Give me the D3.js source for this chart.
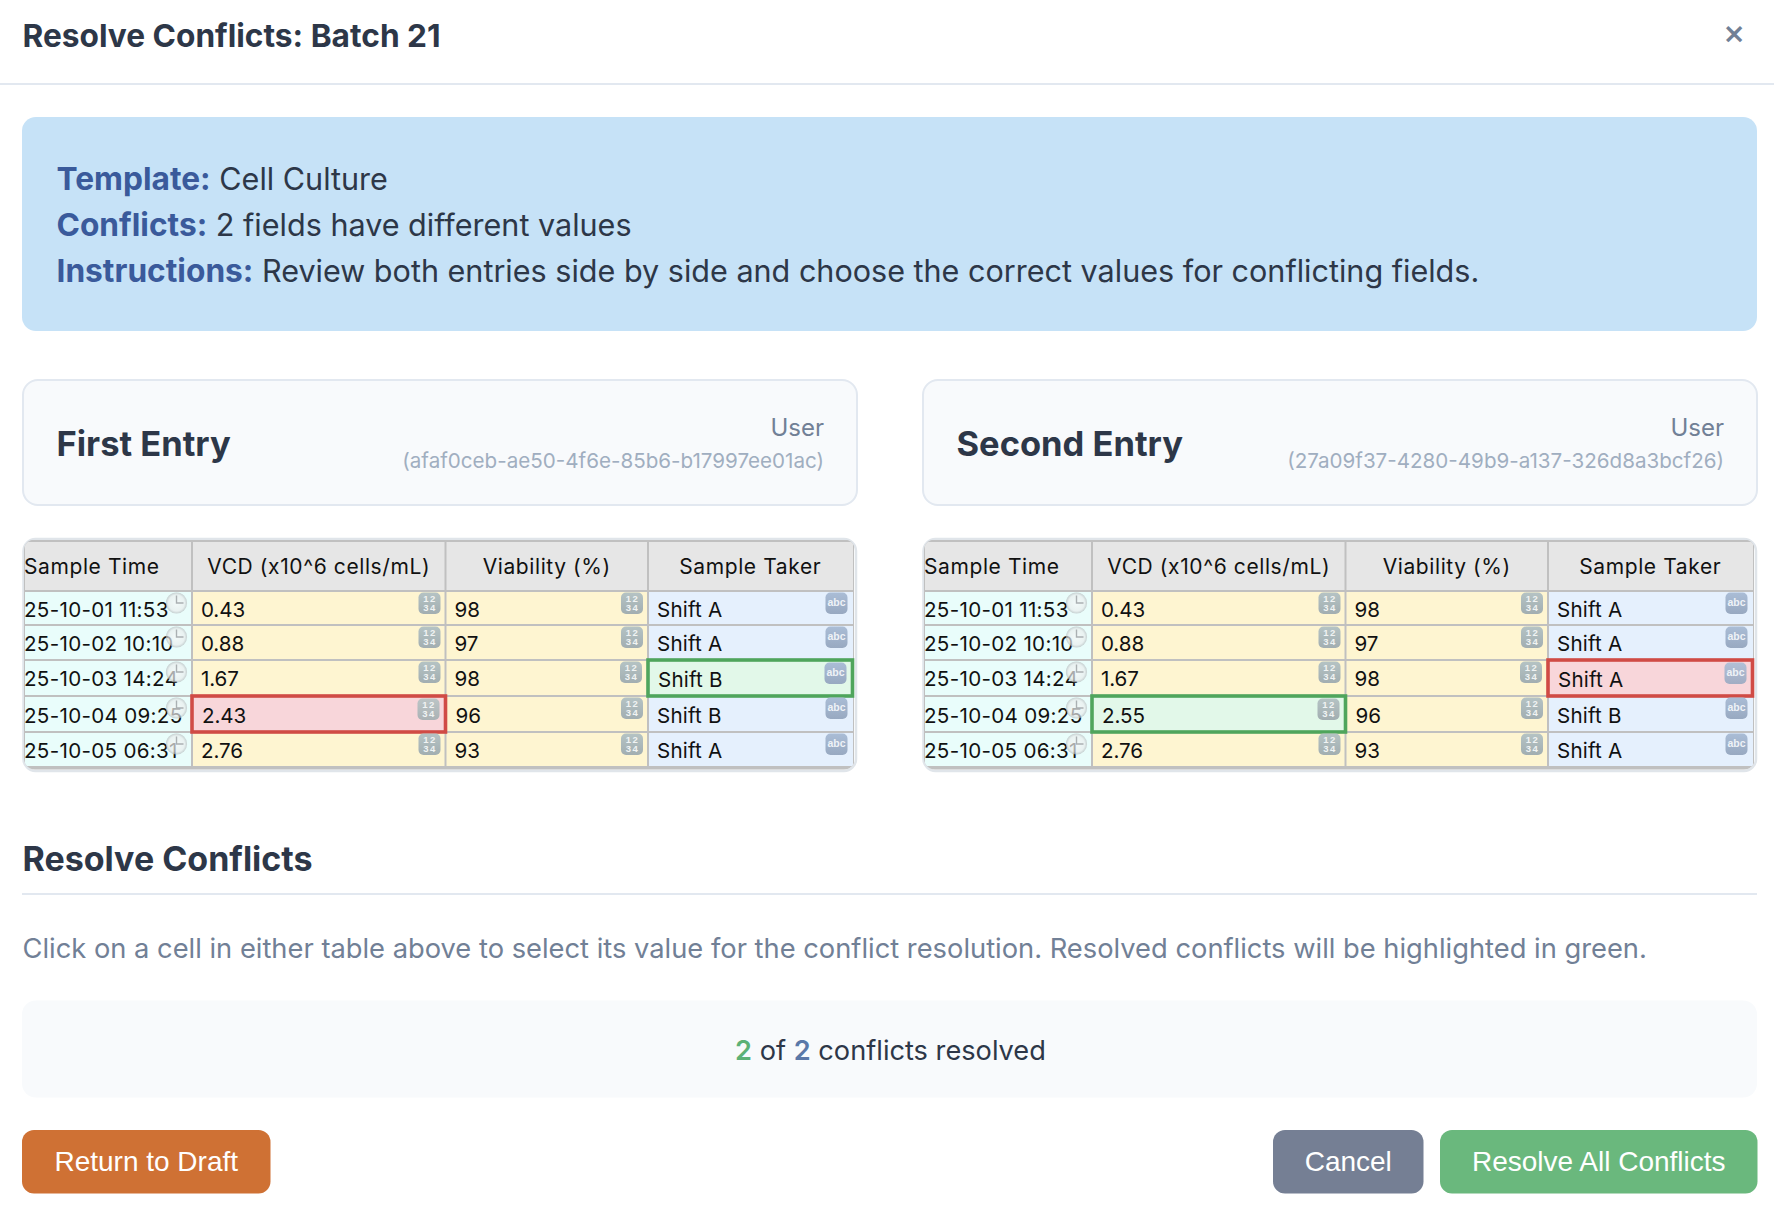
<!DOCTYPE html>
<html><head><meta charset="utf-8">
<script src="https://cdnjs.cloudflare.com/ajax/libs/d3/7.8.5/d3.min.js"></script>
<style>html,body{margin:0;padding:0;background:#fff;overflow:hidden}svg{display:block}text{white-space:pre}</style>
</head><body><svg id="c" width="1774" height="1212"></svg>
<script>
const columns=["Sample Time","VCD (x10^6 cells/mL)","Viability (%)","Sample Taker"];
const sampleTimes=["25-10-01 11:53","25-10-02 10:10","25-10-03 14:24","25-10-04 09:25","25-10-05 06:31"];
const vcdFirst=["0.43","0.88","1.67","2.43","2.76"];
const vcdSecond=["0.43","0.88","1.67","2.55","2.76"];
const viability=["98","97","98","96","93"];
const takerFirst=["Shift A","Shift A","Shift B","Shift B","Shift A"];
const takerSecond=["Shift A","Shift A","Shift A","Shift B","Shift A"];
const rowIds=[0,1,2,3,4];
const entries=[
 {title:"First Entry",user:"User",id:"(afaf0ceb-ae50-4f6e-85b6-b17997ee01ac)",vcd:vcdFirst,taker:takerFirst,marks:{"3-1":"bad","2-3":"good"}},
 {title:"Second Entry",user:"User",id:"(27a09f37-4280-49b9-a137-326d8a3bcf26)",vcd:vcdSecond,taker:takerSecond,marks:{"3-1":"good","2-3":"bad"}}
];
const INTER="Inter,sans-serif", HT="Inter,sans-serif", ICON="'Liberation Sans',Arial,sans-serif", BTN="'Liberation Sans',Arial,sans-serif";
const svg=d3.select("#c");
const ink="#2d3748", slate="#718096";
function txt(p,x,y,s,size,fill,o={}){
  return p.append("text").attr("x",x).attr("y",y).text(s).attr("font-size",size).attr("fill",fill)
   .attr("font-family",o.family||INTER).attr("font-weight",o.weight||400).attr("text-anchor",o.anchor||"start")
   .style("letter-spacing",o.ls||null);
}
function box(p,x,y,w,h,r,fill,stroke,sw){
  return p.append("rect").attr("x",x).attr("y",y).attr("width",w).attr("height",h).attr("rx",r).attr("fill",fill)
    .attr("stroke",stroke||"none").attr("stroke-width",sw||0);
}
// header
txt(svg,22.5,47,"Resolve Conflicts: Batch 21",31.66,ink,{weight:650});
svg.append("rect").attr("x",0).attr("y",83).attr("width",1774).attr("height",2).attr("fill","#e2e8f0");
txt(svg,1734,44,"×",34,slate,{anchor:"middle",weight:500});
// info
box(svg,22,117,1735,214,14,"#c6e2f7");
[["Template:"," Cell Culture",190],["Conflicts:"," 2 fields have different values",236],["Instructions:"," Review both entries side by side and choose the correct values for conflicting fields.",282]].forEach(([a,b,y])=>{
  const t=txt(svg,56.5,y,"",30.55,ink);
  t.append("tspan").text(a).attr("font-weight",700).attr("fill","#3a5a9b").attr("font-size",31.7);
  t.append("tspan").text(b);
});
// entries
const rowY=d3.scaleOrdinal().domain(rowIds).range([591,625,660,696,732]);
const rowEnd=d3.scaleOrdinal().domain(rowIds).range([625,660,696,732,767]);
const rowBase=d3.scaleOrdinal().domain(rowIds).range([616.5,650.5,685.5,722.5,757.5]);
const colX=d3.scaleOrdinal().domain([0,1,2,3]).range([25,192,445.5,648]);
const colEnd=d3.scaleOrdinal().domain([0,1,2,3]).range([192,445.5,648,852.5]);
const bgs=["#e9fdfb","#fef5d1","#fef5d1","#e5f0fd"];
const marks={bad:{fill:"#f8d6da",stroke:"#d04b45"},good:{fill:"#e2f8e9",stroke:"#4fa55c"}};
const defs=svg.append("defs");
const g1=defs.append("linearGradient").attr("id","numGrad").attr("x1",0).attr("y1",0).attr("x2",0).attr("y2",1);
g1.append("stop").attr("offset",0).attr("stop-color","#b5c3c4");g1.append("stop").attr("offset",1).attr("stop-color","#a2aeb1");
const g2=defs.append("linearGradient").attr("id","abcGrad").attr("x1",0).attr("y1",0).attr("x2",0).attr("y2",1);
g2.append("stop").attr("offset",0).attr("stop-color","#aabdd6");g2.append("stop").attr("offset",1).attr("stop-color","#98a9c1");
const g3=defs.append("radialGradient").attr("id","clockGrad");
g3.append("stop").attr("offset",0).attr("stop-color","#f8f9f9");g3.append("stop").attr("offset",.75).attr("stop-color","#e9ecec");g3.append("stop").attr("offset",1).attr("stop-color","#b4babc");

entries.forEach((e,i)=>{
  const dx=i*900;
  const g=svg.append("g").attr("transform",`translate(${dx},0)`);
  box(g,23,380,834,125,15,"#f8fafc","#e2e8f0",2);
  txt(g,56.5,456,e.title,34.5,ink,{weight:700});
  txt(g,824,436,e.user,24,slate,{anchor:"end"});
  txt(g,824,468,e.id,20.6,"#a0aec0",{anchor:"end"});
  const cid="clip"+i;
  defs.append("clipPath").attr("id",cid).append("rect").attr("x",24).attr("y",539.5).attr("width",831).attr("height",230).attr("rx",11);
  box(g,23.5,539,832.5,232,12,"#fff","#e0e5ea",2.5);
  const t=g.append("g").attr("clip-path",`url(#${cid})`);
  const xs=colX.domain();
  const vals=[sampleTimes,e.vcd,viability,e.taker];
  t.append("rect").attr("x",24).attr("y",540).attr("width",830).attr("height",230).attr("fill","#c0c0c0");
  xs.forEach(c=>{
    t.append("rect").attr("x",colX(c)+(c?1:0)).attr("y",542).attr("width",colEnd(c)-colX(c)-(c==3?.5:c?2:1)).attr("height",48).attr("fill","#e6e6e6");
    const hx=(colX(c)+colEnd(c))/2;
    txt(t,c?hx:24,574,columns[c],21,"#111",{family:HT,anchor:c?"middle":"start",ls:"0.6px"});
    rowIds.forEach(r=>{
      t.append("rect").attr("x",colX(c)+(c?1:0)).attr("y",rowY(r)+1).attr("width",colEnd(c)-colX(c)-(c==3?.5:c?2:1)).attr("height",rowEnd(r)-rowY(r)-2).attr("fill",bgs[c]);
    });
  });
  const markAt=(r,c)=>e.marks[r+"-"+c];
  g.append("g").selectAll("rect").data(Object.entries(e.marks)).join("rect")
    .each(function([k,m]){const [r,c]=k.split("-").map(Number);
      d3.select(this).attr("x",colX(c)).attr("y",rowY(r)).attr("width",colEnd(c)-colX(c)).attr("height",rowEnd(r)-rowY(r))
       .attr("fill",marks[m].fill).attr("stroke",marks[m].stroke).attr("stroke-width",3.6);});
  const cg=g.append("g");
  rowIds.forEach(r=>xs.forEach(c=>{
    const m=markAt(r,c), left=c>0&&markAt(r,c-1), right=c<3&&markAt(r,c+1);
    const base=rowBase(r)+(m&&r==2?1:0);
    const tx=c==0?24:colX(c)+9+((m||left)?1:0);
    txt(c==0?t:cg,tx,base,vals[c][r],c==3?20.6:20.6,"#111",{family:HT,ls:c==3?"0.2px":c==0?"0.3px":"-0.1px"});
    const ix=colEnd(c)-5-22+((m||right)?-1:0), iy=rowY(r)+1.5+(m?1:0);
    if(c==0){
      const cl=cg.append("g").attr("transform",`translate(176.5,${rowY(r)+12})`);
      cl.append("circle").attr("r",10.6).attr("fill","url(#clockGrad)").attr("opacity",.68);
      cl.append("path").attr("d","M0,-7.5V0H7").attr("fill","none").attr("stroke","#aab0b2").attr("stroke-width",1.4);
    } else {
      const ic=cg.append("g").attr("transform",`translate(${ix},${iy})`);
      ic.append("rect").attr("width",22).attr("height",21.5).attr("rx",5).attr("fill",c==3?"url(#abcGrad)":"url(#numGrad)").attr("opacity",m=="bad"?.9:1);
      if(c==3) txt(ic,11,13,"abc",10.5,"#eef2f7",{anchor:"middle",family:ICON,weight:700});
      else { txt(ic,11.5,9.5,"12",9.5,"#f0f3f3",{anchor:"middle",family:ICON,weight:700,ls:"1.5px"});
             txt(ic,11.5,18.5,"34",9.5,"#f0f3f3",{anchor:"middle",family:ICON,weight:700,ls:"1.5px"}); }
    }
  }));
});
// resolve section
txt(svg,22.5,871,"Resolve Conflicts",34,ink,{weight:700});
svg.append("rect").attr("x",22).attr("y",893).attr("width",1735).attr("height",2).attr("fill","#e2e8f0");
txt(svg,22.5,958,"Click on a cell in either table above to select its value for the conflict resolution. Resolved conflicts will be highlighted in green.",27.3,slate);
box(svg,22,1000.5,1735,97,14,"#f8fafc");
const st=txt(svg,890.5,1060,"",27.2,ink,{anchor:"middle"});
st.append("tspan").text("2").attr("fill","#5cb176").attr("font-weight",600);
st.append("tspan").text(" of ");
st.append("tspan").text("2").attr("fill","#5a78a8").attr("font-weight",600);
st.append("tspan").text(" conflicts resolved");
// buttons
[["Return to Draft",22,270.5,"#cf7134"],["Cancel",1273,1423.5,"#757f94"],["Resolve All Conflicts",1440,1757.5,"#6ab87d"]].forEach(([s,a,b,c])=>{
  box(svg,a,1130,b-a,63.5,12,c);
  txt(svg,(a+b)/2,1171,s,28,"#fff",{family:BTN,anchor:"middle"});
});
</script></body></html>
